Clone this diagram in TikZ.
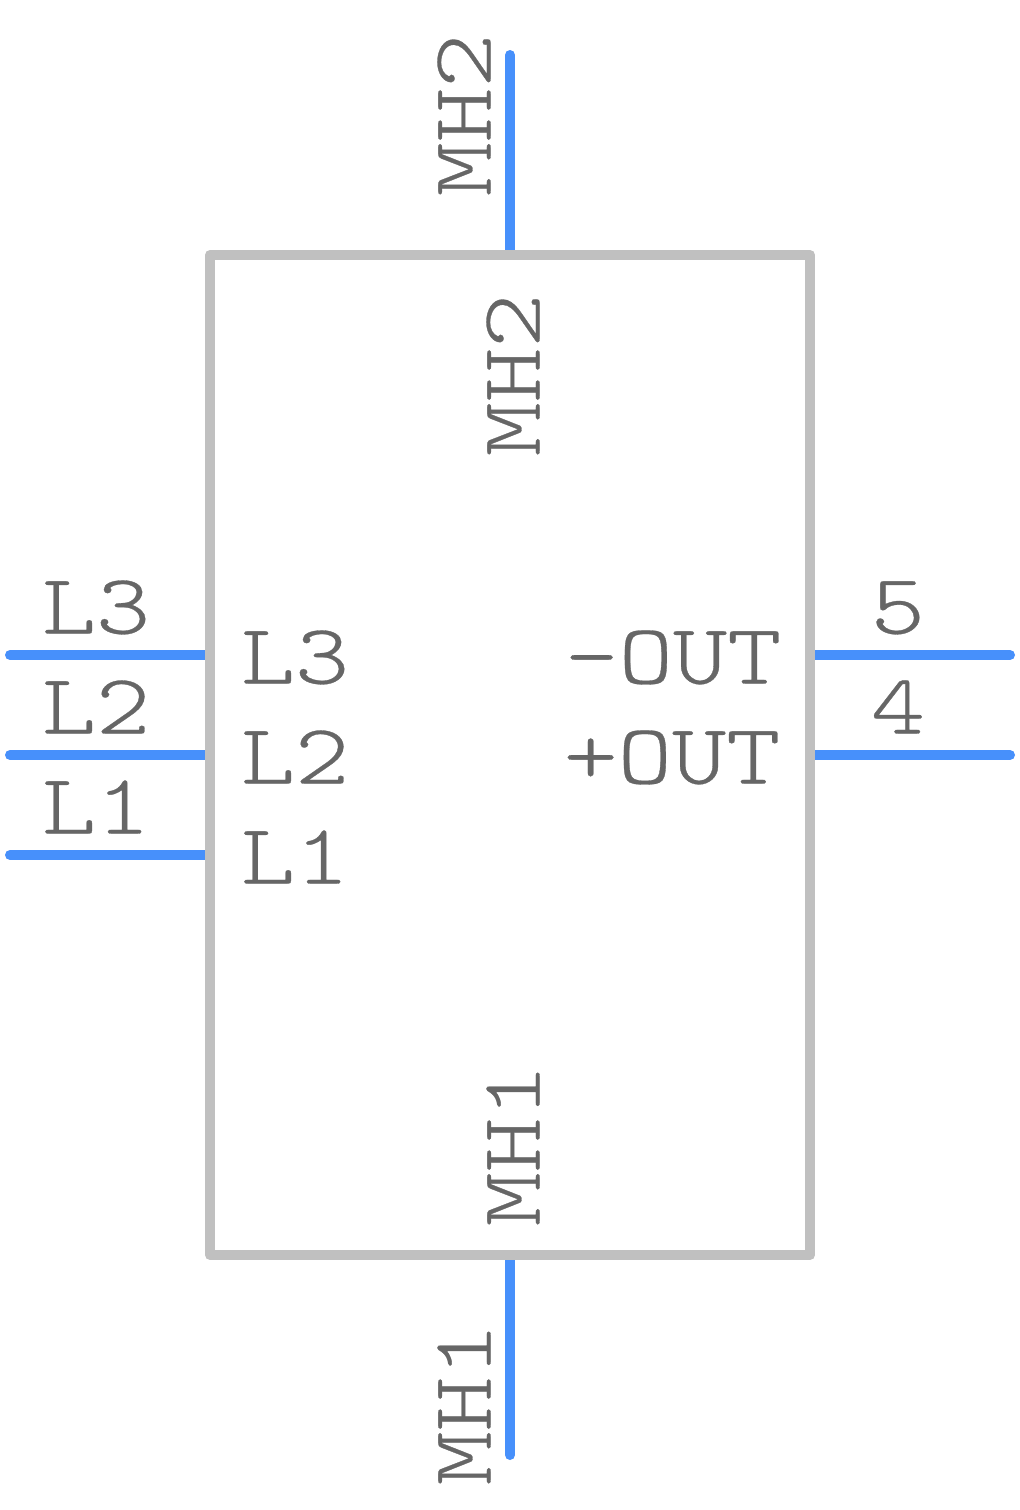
\documentclass[tikz,border=0pt]{standalone}
\usepackage{fontspec}
\newfontfamily\labfont[FakeStretch=1.21,FakeBold=0.35]{Latin Modern Mono Light}
\definecolor{pinc}{HTML}{4790FB}
\definecolor{boxc}{HTML}{C0C0C0}
\definecolor{txtc}{HTML}{666666}
\tikzset{
  pinline/.style={draw=pinc,line width=7.5pt,line cap=round},
  boxline/.style={draw=boxc,line width=7.5pt,line cap=round,line join=round},
  lab/.style={text=txtc,font=\labfont\fontsize{64}{64}\selectfont,inner sep=0pt,outer sep=0pt},
}
\begin{document}
\begin{tikzpicture}[x=0.75pt,y=-0.75pt]
\useasboundingbox (0,0) rectangle (1020,1510);
\fill[white] (0,0) rectangle (1020,1510);
\coordinate (tl) at (210,255);
\coordinate (br) at (810,1255);
\coordinate (a1) at (510,55); \coordinate (a2) at (510,250);
\coordinate (b1) at (510,1260); \coordinate (b2) at (510,1455);
\coordinate (l3a) at (10,655); \coordinate (l3b) at (205,655);
\coordinate (l2a) at (10,755); \coordinate (l2b) at (205,755);
\coordinate (l1a) at (10,855); \coordinate (l1b) at (205,855);
\coordinate (r5a) at (815,655); \coordinate (r5b) at (1010,655);
\coordinate (r4a) at (815,755); \coordinate (r4b) at (1010,755);
\foreach \p/\q in {a1/a2,b1/b2,l3a/l3b,l2a/l2b,l1a/l1b,r5a/r5b,r4a/r4b}
  \draw[pinline] (\p) -- (\q);
\draw[boxline] (tl) rectangle (br);
\node[lab,rotate=90,anchor=base] (mh2o) at (490.5,115) {MH2};
\node[lab,rotate=90,anchor=base] (mh2i) at (539.5,375) {MH2};
\node[lab,rotate=90,anchor=base] (mh1i) at (539.5,1145) {MH1};
\node[lab,rotate=90,anchor=base] (mh1o) at (490.5,1404) {MH1};
\node[lab,anchor=base] (l3o) at (96,633.5) {L3};
\node[lab,anchor=base] (l2o) at (96,733.5) {L2};
\node[lab,anchor=base] (l1o) at (96,833.5) {L1};
\node[lab,anchor=base] (l3i) at (295,683.5) {L3};
\node[lab,anchor=base] (l2i) at (295,783.5) {L2};
\node[lab,anchor=base] (l1i) at (295,883.5) {L1};
\node[lab,anchor=base] (mo) at (673,683.5) {-OUT};
\node[lab,anchor=base] (po) at (672,783.5) {+OUT};
\node[lab,anchor=base] (five) at (898,633.5) {5};
\node[lab,anchor=base] (four) at (898,733.5) {4};
\end{tikzpicture}
\end{document}
